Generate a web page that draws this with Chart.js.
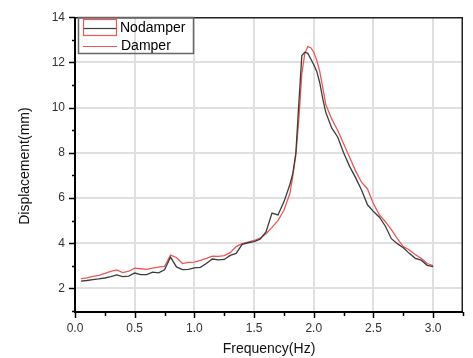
<!DOCTYPE html>
<html>
<head>
<meta charset="utf-8">
<script src="https://cdn.jsdelivr.net/npm/chart.js@4.4.1/dist/chart.umd.min.js"></script>
<style>
  html, body { margin: 0; padding: 0; background: #fff; }
  canvas { display: block; }
</style>
</head>
<body>
<canvas id="risposta" width="473" height="358"></canvas>
<script>
// frequenze (Hz)
const freq = [0.05, 0.10, 0.15, 0.20, 0.25, 0.30, 0.35, 0.40, 0.45, 0.50,
  0.55, 0.60, 0.65, 0.70, 0.75, 0.80, 0.85, 0.90, 0.95, 1.00,
  1.05, 1.10, 1.15, 1.20, 1.25, 1.30, 1.35, 1.40, 1.45, 1.50,
  1.55, 1.60, 1.65, 1.70, 1.75, 1.80, 1.825, 1.85, 1.875, 1.90,
  1.925, 1.95, 1.975, 2.00, 2.025, 2.05, 2.075, 2.10, 2.15, 2.20,
  2.25, 2.30, 2.35, 2.40, 2.45, 2.50, 2.55, 2.60, 2.65, 2.70,
  2.75, 2.80, 2.85, 2.90, 2.95, 3.00];

// spostamento senza smorzatore (mm)
const nodamper = [2.32, 2.35, 2.39, 2.42, 2.46, 2.52, 2.60, 2.52, 2.54, 2.68,
  2.61, 2.61, 2.72, 2.69, 2.82, 3.38, 2.95, 2.83, 2.84, 2.91,
  2.93, 3.10, 3.30, 3.26, 3.28, 3.46, 3.55, 3.95, 4.02, 4.07,
  4.18, 4.50, 5.33, 5.25, 5.83, 6.60, 7.10, 8.00, 10.2, 12.3,
  12.45, 12.4, 12.15, 11.9, 11.6, 11.1, 10.4, 9.80, 9.10, 8.70,
  8.00, 7.40, 6.90, 6.35, 5.70, 5.40, 5.15, 4.75, 4.20, 3.98,
  3.80, 3.55, 3.33, 3.25, 3.02, 2.96];

// spostamento con smorzatore (mm)
const damper = [2.43, 2.47, 2.53, 2.58, 2.66, 2.75, 2.82, 2.70, 2.76, 2.90,
  2.87, 2.84, 2.90, 2.94, 2.97, 3.47, 3.37, 3.10, 3.15, 3.16,
  3.24, 3.33, 3.43, 3.42, 3.45, 3.58, 3.85, 3.98, 4.05, 4.12,
  4.22, 4.42, 4.70, 5.00, 5.46, 6.20, 7.00, 7.90, 9.50, 11.5,
  12.4, 12.7, 12.65, 12.45, 12.1, 11.6, 10.9, 10.15, 9.50, 9.00,
  8.40, 7.80, 7.20, 6.70, 6.40, 5.75, 5.25, 4.95, 4.60, 4.20,
  3.85, 3.70, 3.50, 3.33, 3.10, 3.01];

const serieNomi = ['Nodamper', 'Damper'];
const xTicks = [0.0, 0.5, 1.0, 1.5, 2.0, 2.5, 3.0];
const yTicks = [2, 4, 6, 8, 10, 12, 14];

const nero = '#3c3c3c';
const rosso = '#f05656';

function punti(vals) {
  return freq.map((f, i) => ({ x: f, y: vals[i] }));
}
function isMult(v, s) {
  return Math.abs(v / s - Math.round(v / s)) < 1e-6;
}

// cornice, tacche, titoli e legenda
const DecoriPlugin = {
  id: 'decori',
  afterDraw: (chart) => {
    const { ctx, chartArea: a, scales } = chart;
    const sx = scales.x, sy = scales.y;
    ctx.save();

    // cornice
    ctx.strokeStyle = '#222';
    ctx.lineWidth = 1.5;
    ctx.beginPath();
    ctx.moveTo(a.left, a.top + 0.5);
    ctx.lineTo(a.right - 0.75, a.top + 0.5);
    ctx.lineTo(a.right - 0.75, a.bottom);
    ctx.stroke();
    ctx.strokeStyle = '#000';
    ctx.lineWidth = 2;
    ctx.beginPath();
    ctx.moveTo(a.left, a.top);
    ctx.lineTo(a.left, a.bottom + 1);
    ctx.lineTo(a.right, a.bottom + 1);
    ctx.stroke();

    // tacche asse x
    ctx.lineWidth = 1.5;
    for (let v = 0; v <= 3.25 + 1e-6; v += 0.25) {
      const px = Math.round(sx.getPixelForValue(v)) + 0.5;
      const len = isMult(v, 0.5) ? 6 : 4;
      ctx.beginPath();
      ctx.moveTo(px, a.bottom + 1);
      ctx.lineTo(px, a.bottom + 1 + len);
      ctx.stroke();
    }
    // tacche asse y
    for (let v = 1; v <= 14; v += 1) {
      const py = Math.round(sy.getPixelForValue(v)) + 0.5;
      const len = v % 2 === 0 ? 6 : 3;
      ctx.beginPath();
      ctx.moveTo(a.left, py);
      ctx.lineTo(a.left - len, py);
      ctx.stroke();
    }

    // titoli assi
    ctx.fillStyle = '#111';
    ctx.font = '14px "Liberation Sans", Arial, sans-serif';
    ctx.textAlign = 'center';
    ctx.textBaseline = 'middle';
    ctx.fillText('Frequency(Hz)', (a.left + a.right) / 2, 349);
    ctx.save();
    ctx.translate(25, (a.top + a.bottom) / 2 + 2);
    ctx.rotate(-Math.PI / 2);
    ctx.fillText('Displacement(mm)', 0, 0);
    ctx.restore();

    // legenda
    ctx.strokeStyle = '#666';
    ctx.lineWidth = 1.5;
    ctx.strokeRect(78.5, 17.5, 115, 36);
    ctx.strokeStyle = rosso;
    ctx.lineWidth = 1.2;
    ctx.strokeRect(83.5, 19.5, 33, 16);
    ctx.strokeStyle = nero;
    ctx.beginPath();
    ctx.moveTo(84, 28.5);
    ctx.lineTo(116, 28.5);
    ctx.stroke();
    ctx.strokeStyle = rosso;
    ctx.beginPath();
    ctx.moveTo(83, 46.5);
    ctx.lineTo(117, 46.5);
    ctx.stroke();
    ctx.fillStyle = '#000';
    ctx.textAlign = 'left';
    ctx.font = '14px "Liberation Sans", Arial, sans-serif';
    ctx.fillText(serieNomi[0], 120, 28.5);
    ctx.fillText(serieNomi[1], 121, 46.5);

    ctx.restore();
  }
};

const ctx = document.getElementById('risposta').getContext('2d');
new Chart(ctx, {
  type: 'line',
  data: {
    datasets: [
      { label: serieNomi[0], data: punti(nodamper), borderColor: nero, borderWidth: 1.3, pointRadius: 0, tension: 0, fill: false },
      { label: serieNomi[1], data: punti(damper), borderColor: rosso, borderWidth: 1.3, pointRadius: 0, tension: 0, fill: false }
    ]
  },
  options: {
    responsive: false,
    animation: false,
    layout: { padding: { top: 15, right: 0, left: 0, bottom: 0 } },
    plugins: { legend: { display: false }, tooltip: { enabled: false } },
    scales: {
      x: {
        type: 'linear',
        min: 0,
        max: 3.25,
        afterFit: (s) => { s.height = 47; },
        border: { display: false },
        grid: {
          drawTicks: false,
          lineWidth: 2,
          color: (c) => (c.tick && c.tick.value > 0 && xTicks.some(t => Math.abs(t - c.tick.value) < 1e-6)) ? '#e0e0e0' : 'rgba(0,0,0,0)'
        },
        ticks: {
          stepSize: 0.25,
          autoSkip: false,
          maxRotation: 0,
          padding: 10,
          color: '#333',
          font: { size: 12, family: '"Liberation Sans", Arial, sans-serif' },
          callback: (v) => xTicks.some(t => Math.abs(t - v) < 1e-6) ? v.toFixed(1) : ''
        }
      },
      y: {
        min: 1,
        max: 14,
        afterFit: (s) => { s.width = 75; },
        border: { display: false },
        grid: {
          drawTicks: false,
          lineWidth: 2,
          color: (c) => (c.tick && yTicks.includes(c.tick.value) && c.tick.value < 14) ? '#e0e0e0' : 'rgba(0,0,0,0)'
        },
        ticks: {
          stepSize: 1,
          autoSkip: false,
          padding: 10,
          color: '#333',
          font: { size: 12, family: '"Liberation Sans", Arial, sans-serif' },
          callback: (v) => yTicks.includes(v) ? String(v) : ''
        }
      }
    }
  },
  plugins: [DecoriPlugin]
});
</script>
</body>
</html>
